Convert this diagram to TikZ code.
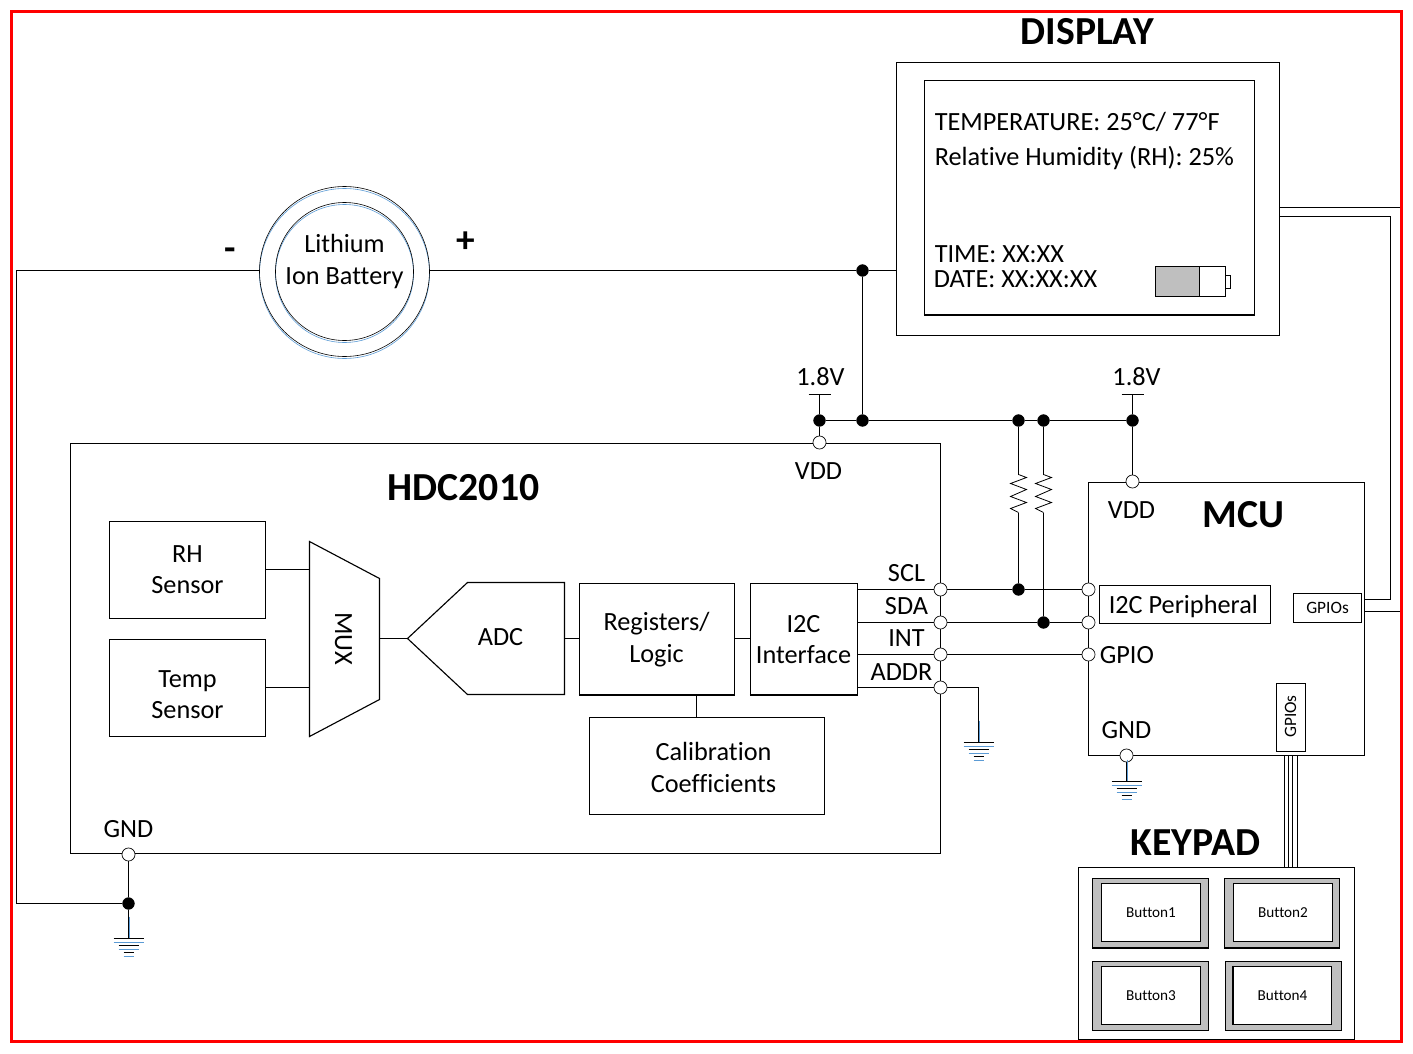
\documentclass[tikz,border=0pt]{standalone}
\usepackage{fontspec}
\setmainfont[Ligatures=NoCommon]{Carlito}
\usetikzlibrary{calc}
\definecolor{blueline}{HTML}{5B9BD5}
\definecolor{greyfill}{HTML}{BFBFBF}
\tikzset{
  wire/.style={draw=black,line width=0.85pt},
  thinwire/.style={draw=black,line width=0.6pt,line join=miter},
  box/.style={draw=black,line width=0.85pt,fill=white,inner sep=0pt,align=center,
    font=\fontsize{19.7}{23.6}\selectfont},
  lbl/.style={inner sep=0pt,align=center,font=\fontsize{19.7}{23.6}\selectfont},
  leftlbl/.style={lbl,anchor=west},
  titlelbl/.style={inner sep=0pt,font=\fontsize{29.8}{34}\selectfont\bfseries},
  smalllbl/.style={inner sep=0pt,font=\fontsize{13}{15}\selectfont},
  btnlbl/.style={box,font=\fontsize{11.4}{13}\selectfont},
  btnframe/.style={box,fill=greyfill},
  opin/.style={circle,draw=black,line width=0.5pt,fill=white,minimum size=9.8pt,inner sep=0pt},
  jdot/.style={circle,draw=black,fill=black,minimum size=8.8pt,inner sep=0pt},
}
\newcommand{\pxbox}[7][]{%
  \pgfmathsetmacro\cxx{(#4+#6)/2}\pgfmathsetmacro\cyy{(#5+#7)/2}%
  \pgfmathsetmacro\wdd{(#6-#4)*0.75}\pgfmathsetmacro\htt{(#7-#5)*0.75}%
  \node[box,#1,minimum width=\wdd pt,minimum height=\htt pt] (#3) at (\cxx,\cyy) {#2};}
\newcommand{\gndsym}[3]{%
  \coordinate (#1) at (#2,#3);
  \begin{scope}[shift={(#2,#3)}]
    \draw[blueline,line width=0.8pt] (1,-22) -- (1,0);
    \foreach \yy/\hw/\cc in {0/15/black,4/15/blueline,7/10/black,11/10/blueline,14/5/black,18/5/blueline}{
      \draw[\cc,line width=0.75pt] (-\hw,\yy) -- (\hw,\yy);
    }
  \end{scope}}
\begin{document}
\begin{tikzpicture}[x=0.75pt,y=-0.75pt]
\useasboundingbox (0.5,0.5) rectangle (1413.5,1053.5);
\fill[white] (0.5,0.5) rectangle (1413.5,1053.5);

% display
\node[titlelbl] (distitle) at (1088,32) {DISPLAY};
\pxbox{}{disp}{897}{63}{1280}{336}
\pxbox{}{screen}{925}{81}{1255}{315}
\draw[line width=1.5pt] (screen.south west) -- (screen.south east);
\node[leftlbl] (t1) at (935,122) {TEMPERATURE: 25°C/ 77°F};
\node[leftlbl] (t2) at (935,159) {Relative Humidity (RH): 25\%};
\node[leftlbl] (t3) at (935,255) {TIME: XX:XX};
\node[leftlbl] (t4) at (934,280) {DATE: XX:XX:XX};
\pxbox{}{battip}{1226}{276}{1231}{289}
\pxbox{}{batbody}{1156}{267}{1226}{297}
\pxbox[btnframe]{}{batfill}{1156}{267}{1200}{297}

% battery
\draw[blueline,line width=0.45pt] (345,274) circle[radius=85];
\draw[blueline,line width=0.45pt] (345,274) circle[radius=69];
\node[circle,draw=black,line width=0.45pt,minimum size=127.5pt,inner sep=0pt] (batt) at (345,272) {};
\node[circle,draw=black,line width=0.45pt,minimum size=103.5pt,inner sep=0pt] (battin) at (345,272) {};
\node[lbl] (battxt) at (345,262) {Lithium\\Ion Battery};
\node[inner sep=0pt,font=\fontsize{28}{32}\selectfont\bfseries] (minus) at (231,255) {-};
\node[inner sep=0pt,font=\fontsize{28}{32}\selectfont\bfseries] (plus) at (466,243) {+};

% HDC2010
\pxbox{}{hdc}{71}{444}{941}{854}
\node[titlelbl] (hdctitle) at (464,488) {HDC2010};
\node[lbl] (vdd1) at (819,472) {VDD};
\node[lbl] (gnd1) at (129,830) {GND};
\pxbox{}{rh}{110}{522}{266}{619}
\node[lbl] (rht) at (188,570) {RH\\Sensor};
\pxbox{}{temp}{110}{640}{266}{737}
\node[lbl] (tempt) at (188,695) {Temp\\Sensor};
\draw[wire,fill=white] (310,542) coordinate (muxa) -- (380,579) coordinate (muxb) -- (380,700) coordinate (muxc) -- (310,737) coordinate (muxd) -- cycle;
\node[lbl,rotate=-90] (muxt) at (344,639) {MUX};
\coordinate (muxl1) at (310,570); \coordinate (muxl2) at (310,688);
\coordinate (muxr) at (380,639);
\draw[wire,fill=white] (408,639) coordinate (adcl) -- (468,583) -- (565,583) -- (565,695) -- (468,695) -- cycle;
\coordinate (adcr) at (565,639);
\node[lbl] (adct) at (501,638) {ADC};
\pxbox{}{regs}{580}{584}{735}{695}
\node[lbl] (regst) at (657,640) {Registers/\\Logic};
\draw[line width=1.4pt] (regs.south west) -- (regs.south east);
\pxbox{}{i2c}{751}{584}{858}{695}
\node[lbl] (i2ct) at (804,640) {I2C\\Interface};
\draw[line width=1.4pt] (i2c.south west) -- (i2c.south east);
\pxbox{}{cal}{590}{718}{825}{815}
\node[lbl] (calt) at (714,768) {Calibration\\Coefficients};
\node[lbl] (scl) at (907,574) {SCL};
\node[lbl] (sda) at (907,607) {SDA};
\node[lbl] (int) at (907,639) {INT};
\node[lbl] (addr) at (902,673) {ADDR};

% MCU
\pxbox{}{mcu}{1089}{483}{1365}{756}
\node[titlelbl] (mcutitle) at (1244,515) {MCU};
\node[lbl] (vdd2) at (1132,511) {VDD};
\node[lbl] (gnd2) at (1127,731) {GND};
\pxbox{}{per}{1100}{586}{1271}{624}
\node[leftlbl] (pert) at (1109,607) {I2C Peripheral};
\node[leftlbl] (gpio) at (1100,656) {GPIO};
\pxbox[font=\fontsize{13}{15}\selectfont]{GPIOs}{gp1}{1294}{594}{1362}{623}
\pxbox{}{gp2}{1277}{684}{1306}{752}
\node[smalllbl,rotate=90] (gp2t) at (1291,717) {GPIOs};

% keypad
\node[titlelbl] (keytitle) at (1196,843) {KEYPAD};
\pxbox{}{keys}{1079}{868}{1355}{1040}
\pxbox[btnframe]{}{bf1}{1093}{879}{1209}{948}
\pxbox[btnframe]{}{bf2}{1225}{879}{1340}{948}
\pxbox[btnframe]{}{bf3}{1093}{962}{1209}{1031}
\pxbox[btnframe]{}{bf4}{1226}{962}{1342}{1031}
\pxbox[btnlbl]{Button1}{b1}{1102}{884}{1201}{942}
\pxbox[btnlbl]{Button2}{b2}{1234}{884}{1333}{942}
\pxbox[btnlbl]{Button3}{b3}{1102}{967}{1201}{1025}
\pxbox[btnlbl]{Button4}{b4}{1234}{967}{1332}{1025}
\draw[line width=1.4pt] (b4.north west) -- (b4.south west);
\draw[line width=1.4pt] (bf1.south west) -- (bf1.south east);
\draw[line width=1.4pt] (bf2.south west) -- (bf2.south east);

% pins and junctions
\node[opin] (pvdd1) at (820,443) {};
\node[opin] (pgnd1) at (129,855) {};
\node[opin] (pscl) at (941,590) {};
\node[opin] (psda) at (941,623) {};
\node[opin] (pint) at (941,655) {};
\node[opin] (paddr) at (941,688) {};
\node[opin] (mscl) at (1089,590) {};
\node[opin] (msda) at (1089,623) {};
\node[opin] (mint) at (1089,655) {};
\node[opin] (pvdd2) at (1133,482) {};
\node[opin] (pgnd2) at (1127,756) {};
\node[jdot] (jbatt) at (863,271) {};
\node[jdot] (jv1) at (820,421) {};
\node[jdot] (jv2) at (863,421) {};
\node[jdot] (jr1) at (1019,421) {};
\node[jdot] (jr2) at (1044,421) {};
\node[jdot] (jv3) at (1133,421) {};
\node[jdot] (jscl) at (1019,590) {};
\node[jdot] (jsda) at (1044,623) {};
\node[jdot] (jgnd) at (129,904) {};

% supply labels and bars
\node[lbl] (v1) at (821,377) {1.8V};
\node[lbl] (v2) at (1137,377) {1.8V};
\coordinate (bar1) at (820,395); \coordinate (bar2) at (1133,395);
\draw[wire] (809,395) -- (831,395);
\draw[wire] (1122,395) -- (1144,395);
\draw[wire] (bar1) -- (jv1);
\draw[wire] (jv1) -- (pvdd1);
\draw[wire] (bar2) -- (jv3);
\draw[wire] (jv3) -- (pvdd2);
\draw[wire] (jv1) -- (jv2);
\draw[wire] (jv2) -- (jr1);
\draw[wire] (jr1) -- (jr2);
\draw[wire] (jr2) -- (jv3);
\draw[wire] (jbatt) -- (jv2);

% battery wiring
\coordinate (cl) at (17,271); \coordinate (cg) at (17,904);
\coordinate (battl) at (260,271); \coordinate (battr) at (430,271);
\coordinate (dispw) at (897,271);
\draw[wire] (battl) -- (cl) -- (cg) -- (jgnd);
\draw[wire] (battr) -- (jbatt);
\draw[wire] (jbatt) -- (dispw);
\draw[wire] (pgnd1) -- (jgnd);

% blocks
\draw[wire] (rh.east |- muxl1) -- (muxl1);
\draw[wire] (temp.east |- muxl2) -- (muxl2);
\draw[wire] (muxr) -- (adcl);
\draw[wire] (adcr) -- (regs.west |- adcr);
\draw[wire] (regs.east |- adcr) -- (i2c.west |- adcr);
\coordinate (calup) at (697,718); \coordinate (regdn) at (697,695);
\draw[wire] (calup) -- (regdn);

% I2C lines
\draw[wire] (i2c.east |- pscl) -- (pscl);
\draw[wire] (i2c.east |- psda) -- (psda);
\draw[wire] (i2c.east |- pint) -- (pint);
\draw[wire] (i2c.east |- paddr) -- (paddr);
\draw[wire] (pscl) -- (jscl);
\draw[wire] (jscl) -- (mscl);
\draw[wire] (psda) -- (jsda);
\draw[wire] (jsda) -- (msda);
\draw[wire] (pint) -- (mint);

% resistors
\coordinate (r1a) at (1019,475); \coordinate (r1b) at (1019,513);
\coordinate (r2a) at (1044,475); \coordinate (r2b) at (1044,513);
\draw[wire] (jr1) -- (r1a);
\draw[thinwire] (r1a) -- (1027,478) -- (1011,484) -- (1027,490) -- (1011,497) -- (1027,503) -- (1011,509) -- (r1b);
\draw[wire] (r1b) -- (jscl);
\draw[wire] (jr2) -- (r2a);
\draw[thinwire] (r2a) -- (1052,478) -- (1036,484) -- (1052,490) -- (1036,497) -- (1052,503) -- (1036,509) -- (r2b);
\draw[wire] (r2b) -- (jsda);

% grounds
\gndsym{g1}{129}{939}
\gndsym{g2}{979}{743}
\gndsym{g3}{1127}{782}
\coordinate (addrc) at (979,688);
\draw[wire] (jgnd) -- (g1);
\draw[wire] (paddr) -- (addrc) -- (g2);
\draw[wire] (pgnd2) -- (g3);

% display to MCU
\coordinate (w1a) at (1280,208); \coordinate (w1b) at (1402,208);
\coordinate (w2a) at (1280,217); \coordinate (w2b) at (1391,217);
\coordinate (w2c) at (1391,600); \coordinate (w2d) at (1365,600);
\coordinate (w3a) at (1365,612); \coordinate (w3b) at (1402,612);
\draw[wire] (w1a) -- (w1b);
\draw[wire] (w2a) -- (w2b) -- (w2c) -- (w2d);
\draw[wire] (w3a) -- (w3b);

% keypad bus
\foreach \xx in {1285,1289,1293,1298}{
  \coordinate (busa) at (\xx,756); \coordinate (busb) at (\xx,868);
  \draw[line width=0.8pt] (busa) -- (busb);
}

% frame
\draw[red,line width=2.25pt] (12,12) rectangle (1402,1042);
\end{tikzpicture}
\end{document}
